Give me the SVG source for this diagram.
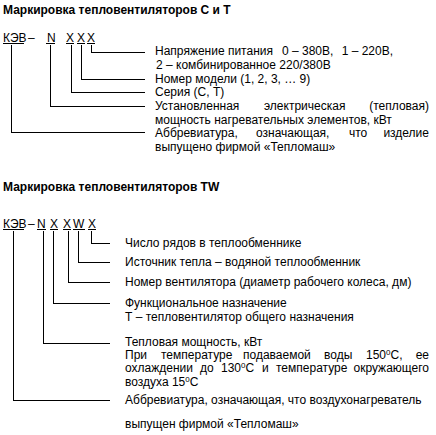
<svg xmlns="http://www.w3.org/2000/svg" width="436" height="435" viewBox="0 0 436 435">
<style>
text{font-family:"Liberation Sans",Arial,sans-serif;font-size:12px;fill:#000}
.t{font-weight:bold;font-size:12px}
.e{text-anchor:end}
line{stroke:#000;stroke-width:1;shape-rendering:crispEdges}
polyline{fill:none;stroke:#000;stroke-width:1;shape-rendering:crispEdges}
.sup{font-size:8px}
</style>
<rect width="436" height="435" fill="#fff"/>
<text class="t" x="3" y="14">Маркировка тепловентиляторов С и Т</text>
<g id="code1">
<text x="3" y="42">КЭВ</text><text x="28" y="42">–</text><text x="47" y="42">N</text><text x="66" y="42">X</text><text x="77" y="42">X</text><text x="87" y="42">X</text>
<line x1="3" y1="43.5" x2="24" y2="43.5"/><line x1="46" y1="43.5" x2="55" y2="43.5"/><line x1="66" y1="43.5" x2="74" y2="43.5"/><line x1="77" y1="43.5" x2="85" y2="43.5"/><line x1="87" y1="43.5" x2="95" y2="43.5"/>
</g>
<g id="connectors1">
<polyline points="91.5,45 91.5,52.5 145,52.5"/>
<polyline points="81.5,45 81.5,79.5 145,79.5"/>
<polyline points="71.5,45 71.5,92.5 145,92.5"/>
<polyline points="50.5,45 50.5,106.5 145,106.5"/>
<polyline points="11.5,45 11.5,132.5 145,132.5"/>
</g>
<g id="n-voltage"><text x="155" y="55">Напряжение питания</text><text x="282" y="55">0 – 380В,</text><text class="e" x="393" y="55">1 – 220В,</text><text x="156" y="69">2 – комбинированное 220/380В</text></g>
<g id="n-model"><text x="155" y="83">Номер модели (1, 2, 3, … 9)</text></g>
<g id="n-series"><text x="155" y="96">Серия (С, Т)</text></g>
<g id="n-power"><text x="155" y="110">Установленная</text><text x="264" y="110">электрическая</text><text class="e" x="429" y="110">(тепловая)</text><text x="155" y="124">мощность нагревательных элементов, кВт</text></g>
<g id="n-abbr1"><text x="155" y="137">Аббревиатура,</text><text x="256" y="137">означающая,</text><text x="349" y="137">что</text><text class="e" x="429" y="137">изделие</text><text x="155" y="151">выпущено фирмой «Тепломаш»</text></g>

<text class="t" x="3" y="191">Маркировка тепловентиляторов TW</text>
<g id="code2">
<text x="3" y="228">КЭВ</text><text x="28" y="228">–</text><text x="37" y="228">N</text><text x="50" y="228">X</text><text x="63" y="228">X</text><text x="73" y="228">W</text><text x="88" y="228">X</text>
<line x1="3" y1="229.5" x2="24" y2="229.5"/><line x1="37" y1="229.5" x2="46" y2="229.5"/><line x1="50" y1="229.5" x2="58" y2="229.5"/><line x1="63" y1="229.5" x2="71" y2="229.5"/><line x1="73" y1="229.5" x2="85" y2="229.5"/><line x1="88" y1="229.5" x2="96" y2="229.5"/>
</g>
<g id="connectors2">
<polyline points="91.5,231 91.5,243.5 110,243.5"/>
<polyline points="78.5,231 78.5,262.5 110,262.5"/>
<polyline points="68.5,231 68.5,282.5 110,282.5"/>
<polyline points="53.5,231 53.5,303.5 110,303.5"/>
<polyline points="43.5,231 43.5,343.5 110,343.5"/>
<polyline points="13.5,231 13.5,400.5 110,400.5"/>
</g>
<g id="n-rows"><text x="125" y="247">Число рядов в теплообменнике</text></g>
<g id="n-source"><text x="125" y="266">Источник тепла – водяной теплообменник</text></g>
<g id="n-fan"><text x="125" y="286">Номер вентилятора (диаметр рабочего колеса, дм)</text></g>
<g id="n-func"><text x="125" y="307">Функциональное назначение</text><text x="125" y="321">Т – тепловентилятор общего назначения</text></g>
<g id="n-heat">
<text x="125" y="346">Тепловая мощность, кВт</text>
<text x="125" y="359">При</text><text x="161" y="359">температуре</text><text x="243" y="359">подаваемой</text><text x="324" y="359">воды</text><text x="366" y="359">150<tspan class="sup" dy="-4">0</tspan><tspan dy="4">С,</tspan></text><text class="e" x="429" y="359">ее</text>
<text x="125" y="372">охлаждении</text><text x="200" y="372">до</text><text x="221" y="372">130<tspan class="sup" dy="-4">0</tspan><tspan dy="4">С</tspan></text><text x="262" y="372">и</text><text x="276" y="372">температуре</text><text class="e" x="429" y="372">окружающего</text>
<text x="125" y="386">воздуха 15<tspan class="sup" dy="-4">0</tspan><tspan dy="4">С</tspan></text>
</g>
<g id="n-abbr2"><text x="125" y="404">Аббревиатура, означающая, что воздухонагреватель</text><text x="125" y="428">выпущен фирмой «Тепломаш»</text></g>
</svg>
